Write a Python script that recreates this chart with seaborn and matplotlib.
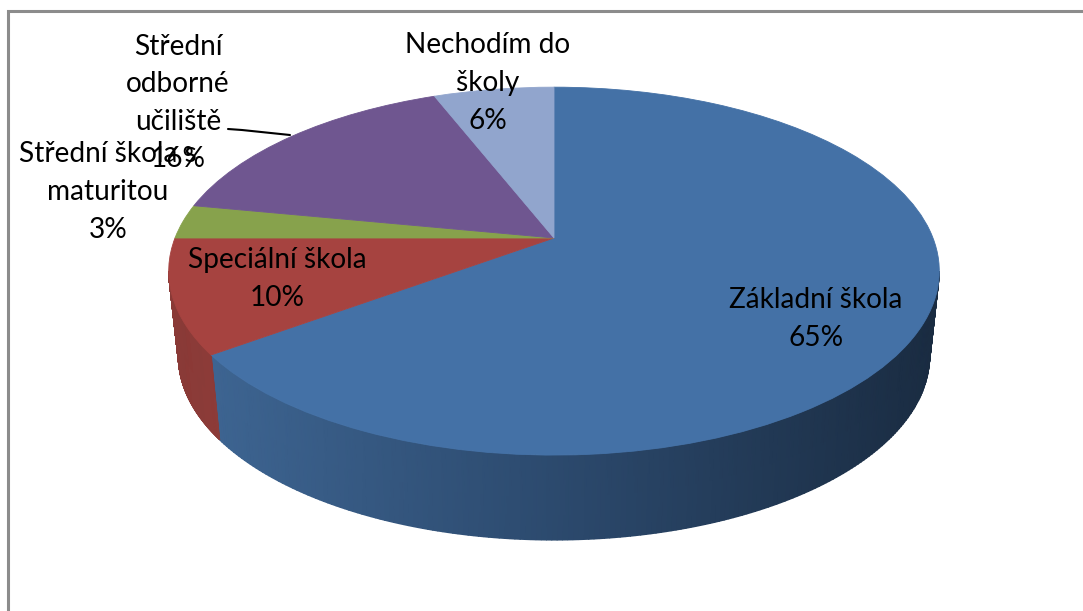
import numpy as np
import matplotlib
matplotlib.use('Agg')
import matplotlib.pyplot as plt
import matplotlib.transforms as mtransforms
import seaborn as sns

labels = ['Základní škola', 'Speciální škola', 'Střední škola s\nmaturitou',
          'Střední\nodborné\nučiliště', 'Nechodím do\nškoly']
values = [65, 10, 3, 16, 6]
colors = ['#4471A6', '#A64340', '#87A24C', '#6F5690', '#91A5CD']
label_pos = [(816, 319), (277, 279), (108, 192), (178, 103), (488, 83)]

# picture geometry, pie is tilted so the far side looks smaller
cx, cy = 554, 238
sx, sy = 379, 178
tilt = 0.18
depth = 85
bottom_scale = 0.975


class TiltTransform(mtransforms.Transform):
    input_dims = 2
    output_dims = 2
    is_separable = False

    def transform_non_affine(self, xy):
        xy = np.asarray(xy, dtype=float)
        w = 1 + tilt * xy[:, 1]
        return np.column_stack([cx + sx * xy[:, 0] / w, cy - sy * xy[:, 1] / w])


tilted = TiltTransform()

sns.set_theme(style='white')
plt.rcParams['font.family'] = ['Lato', 'DejaVu Sans']

fig = plt.figure(figsize=(10.83, 6.11), dpi=100)
ax = fig.add_axes([0, 0, 1, 1])

# side wall first, the top face covers what is behind
side_palettes = [
    sns.blend_palette(['#1A2C42', '#2C4A6E', '#3F6795'], as_cmap=True),
    sns.blend_palette(['#8A3A37', '#93403D'], as_cmap=True),
]
edges = np.cumsum([0] + values) * 3.6
front_from = np.degrees(np.arccos(-tilt))
front_to = 360 - front_from
for i, cmap in enumerate(side_palettes):
    a = max(edges[i], front_from)
    b = min(edges[i + 1], front_to)
    t = np.radians(np.linspace(a, b, 200))
    rim = tilted.transform_non_affine(np.column_stack([np.sin(t), np.cos(t)]))
    low_x = cx + (rim[:, 0] - cx) * bottom_scale
    X = np.vstack([rim[:, 0], low_x])
    Y = np.vstack([rim[:, 1], rim[:, 1] + depth])
    # shading follows the horizontal position
    C = (X - (cx - sx)) / (2 * sx)
    C = 1 - C if i == 0 else C
    ax.pcolormesh(X, Y, C, shading='gouraud', cmap=cmap, vmin=0, vmax=1 if i == 0 else 0.2)

wedges, _ = ax.pie(values, colors=colors, startangle=90, counterclock=False,
                   wedgeprops={'linewidth': 0})
for w, c in zip(wedges, colors):
    w.set_transform(tilted + ax.transData)
    # same colour edge hides the hairlines between the slices
    w.set_edgecolor(c)
    w.set_linewidth(0.6)

ax.set_aspect('auto')
ax.set_xlim(0, 1083)
ax.set_ylim(611, 0)
ax.axis('off')

# chart frame, runs off the picture on the right and at the bottom
ax.plot([8, 8, 1083], [611, 11, 11], color='#8C8C8C', lw=2.2, solid_joinstyle='miter')

# leader line of the 16% label
ax.plot([228, 242, 290], [129, 130, 135], color='black', lw=1.5)

for label, value, (x, y) in zip(labels, values, label_pos):
    ax.text(x, y, f'{label}\n{value}%', ha='center', va='center', fontsize=20.2,
            linespacing=1.55, color='black')

fig.savefig('out.png', dpi=100)
